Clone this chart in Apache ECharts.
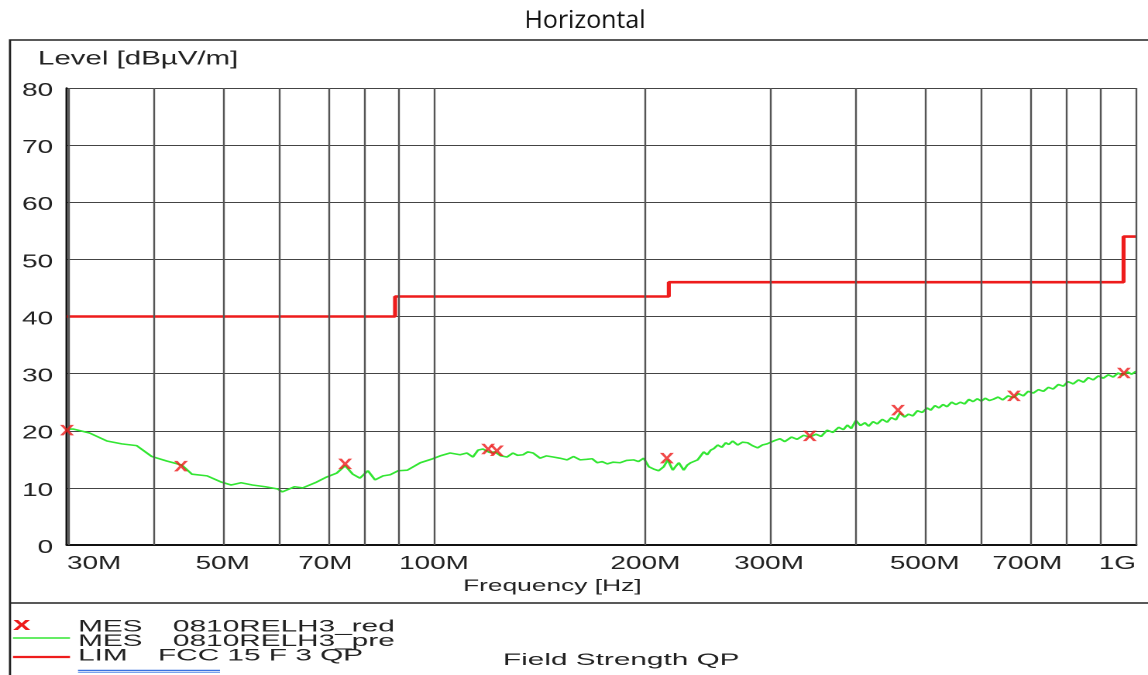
<!DOCTYPE html>
<html>
<head>
<meta charset="utf-8">
<script src="https://cdn.jsdelivr.net/npm/echarts@6/dist/echarts.min.js"></script>
<style>
html,body{margin:0;padding:0;background:#fff;overflow:hidden;width:1148px;height:675px}
#c{width:741px;height:675px;transform-origin:0 0;transform:scaleX(1.54926)}
</style>
</head>
<body>
<div id="c"></div>
<script>
// ---- Data (frequency in MHz, level in dBµV/m) ----
const limitFreq  = [30, 88, 88, 216, 216, 960, 960, 1000];
const limitLevel = [40, 40, 43.5, 43.5, 46, 46, 54, 54];

const redFreq  = [30.0, 43.6, 74.7, 119.4, 122.9, 214.6, 343, 458, 670, 961];
const redLevel = [20.1, 13.8, 14.2, 16.8, 16.5, 15.2, 19.1, 23.6, 26.1, 30.1];

const preFreq = [30.0,30.6,32.3,34.2,35.9,37.7,39.6,41.6,43.7,45.2,47.5,49.8,51.4,53.1,55.1,57.5,59.9,60.8,63.3,65.0,68.0,70.3,72.7,74.7,76.6,78.4,80.5,82.4,84.6,86.6,88.9,91.6,95.6,99.6,102.0,105.4,108.9,111.4,113.6,115.5,117.4,120.0,122.1,124.5,127.0,129.5,131.5,133.9,136.0,138.4,141.6,144.5,147.8,151.0,154.7,158.0,161.5,165.0,168.0,170.8,173.5,176.5,180.0,184.2,188.0,192.6,195.5,198.9,202.3,205.5,208.9,212.4,215.2,218.8,221.0,223.2,226.8,229.5,232.1,237.4,242.2,245.0,247.8,250.5,253.5,257.0,260.3,263.0,266.3,270.7,275.0,279.7,284.0,289.0,293.5,298.1,300,306,311,316,323,329,336,343,350,356,363,370,377,383,388,393,399,405,411,416,422,428,435,442,448,455,461,468,474,481,488,496,504,510,517,524,531,538,546,554,562,570,578,586,594,602,610,618,626,636,646,657,669,680,691,702,714,726,738,750,762,775,788,800,814,828,842,855,869,884,898,913,928,943,957,972,986,1000];
const preLevel = [20.3,20.3,19.6,18.2,17.7,17.4,15.5,14.7,14.0,12.4,12.1,11.0,10.5,10.9,10.5,10.2,9.8,9.3,10.2,10.0,11.0,11.9,12.6,13.9,12.4,11.7,13.0,11.4,12.1,12.3,13.0,13.1,14.4,15.1,15.6,16.1,15.8,16.1,15.4,16.6,16.8,16.2,16.3,15.6,15.4,16.1,15.7,15.8,16.3,16.1,15.2,15.6,15.4,15.2,14.9,15.5,14.9,15.0,15.1,14.4,14.6,14.2,14.5,14.4,14.8,14.9,14.6,15.2,13.7,13.3,13.0,13.7,14.9,13.1,13.8,14.4,13.1,14.0,14.4,14.9,16.3,15.8,16.6,16.9,17.5,17.1,17.9,17.6,18.2,17.5,18.0,17.9,17.4,17.0,17.5,17.7,17.6,18.3,18.6,18.1,18.9,18.5,19.2,18.9,19.4,19.0,20.1,19.7,20.6,20.2,21.0,20.4,21.8,20.9,21.4,20.8,21.6,21.2,22.0,21.5,22.3,21.9,23.1,22.4,22.9,22.6,23.5,23.2,24.0,23.6,24.4,24.0,24.6,24.2,25.0,24.6,25.0,24.7,25.5,25.1,25.6,25.2,25.7,25.3,25.5,25.9,25.4,26.1,25.8,26.5,26.1,26.9,26.6,27.2,26.9,27.6,27.3,28.1,27.8,28.6,28.2,28.9,28.5,29.3,28.9,29.6,29.2,29.8,29.4,30.1,29.7,30.3,29.9,30.4];

const gridFreqs = [30,40,50,60,70,80,90,100,200,300,400,500,600,700,800,900,1000];
const xTickFreqs = [30,50,70,100,200,300,500,700,1000];
const xTickLabels = ['30M','50M','70M','100M','200M','300M','500M','700M','1G'];

// ---- Chart ----
// The chart is laid out in a narrower box and stretched horizontally (like the reference image).
const S = 1148 / 741;
const px = v => v / S;            // page x -> chart-box x
const L = Math.log10;
const toPts = (fs, vs) => fs.map((f, i) => [L(f), vs[i]]);
const FONT = '"Liberation Sans", Arial, sans-serif';
const labelFor = v => {
  let best = 0, d = 1e9;
  xTickFreqs.forEach((f, i) => { const dd = Math.abs(L(f) - v); if (dd < d) { d = dd; best = i; } });
  return xTickLabels[best];
};
const xSym = 'path://M0,0 L2.6,0 L5,3.3 L7.4,0 L10,0 L6.3,4.7 L10,9.4 L7.4,9.4 L5,6.1 L2.6,9.4 L0,9.4 L3.7,4.7 Z';
const LEG = 1.13; // extra horizontal stretch of the legend text
const txt = (x, y, text, size, extra, fill, weight) => ({
  type: 'text', x: px(x), y: y, scaleX: extra || 1,
  style: {text: text, font: (weight || '') + ' ' + size + 'px ' + FONT, fill: fill || '#222', textVerticalAlign: 'top'}
});

const chart = echarts.init(document.getElementById('c'), null, {renderer: 'canvas', devicePixelRatio: 2});
chart.setOption({
  animation: false,
  backgroundColor: '#fff',
  grid: {left: px(67), right: px(12), top: 88, bottom: 130, containLabel: false},
  xAxis: {
    type: 'value', min: L(30), max: 3,
    axisLine: {show: true, onZero: false, lineStyle: {color: '#111', width: 2}},
    axisTick: {show: false},
    splitLine: {show: false},
    axisLabel: {
      customValues: xTickFreqs.map(L),
      formatter: v => labelFor(v),
      color: '#222', fontFamily: FONT, fontSize: 18, margin: 10,
      alignMinLabel: 'left', alignMaxLabel: 'right'
    }
  },
  yAxis: {
    type: 'value', min: 0, max: 80, interval: 10,
    axisLine: {show: true, lineStyle: {color: '#111', width: 1.5}},
    axisTick: {show: false},
    splitLine: {show: true, lineStyle: {color: '#444', width: 1}},
    axisLabel: {color: '#222', fontFamily: FONT, fontSize: 18, margin: 9, verticalAlign: 'top', lineHeight: 6}
  },
  graphic: [
    {type: 'text', x: px(585), y: 21, scaleX: 1 / S,
     style: {text: 'Horizontal', font: '25px "Open Sans", "Noto Sans", sans-serif', fill: '#111', textAlign: 'center', textVerticalAlign: 'middle'}},
    {type: 'rect', shape: {x: px(10), y: 40, width: 900, height: 700}, style: {fill: 'none', stroke: '#222', lineWidth: 1.4}, z: -1},
    {type: 'line', shape: {x1: px(10), y1: 603, x2: 760, y2: 603}, style: {stroke: '#222', lineWidth: 1.5}},
    txt(38, 50, 'Level [dBµV/m]', 19),
    txt(463, 578, 'Frequency [Hz]', 17),
    txt(13, 616, 'x', 18, LEG, '#ee1c1c', 'bold'),
    {type: 'line', shape: {x1: px(13), y1: 638, x2: px(70), y2: 638}, style: {stroke: '#33e633', lineWidth: 1.6}},
    {type: 'line', shape: {x1: px(13), y1: 657, x2: px(70), y2: 657}, style: {stroke: '#ee1c1c', lineWidth: 2.2}},
    txt(78, 618.5, 'MES', 17, LEG),
    txt(173, 618.5, '0810RELH3_red', 17, LEG),
    txt(78, 633, 'MES', 17, LEG),
    txt(173, 633, '0810RELH3_pre', 17, LEG),
    txt(78, 647.5, 'LIM', 17, LEG),
    txt(158, 647.5, 'FCC 15 F 3 QP', 17, LEG),
    {type: 'line', shape: {x1: px(78), y1: 670.5, x2: px(220), y2: 670.5}, style: {stroke: '#3a72e0', lineWidth: 1.5}},
    {type: 'line', shape: {x1: px(78), y1: 672.5, x2: px(220), y2: 672.5}, style: {stroke: '#7aa3ee', lineWidth: 1}},
    txt(503, 652, 'Field Strength QP', 17, LEG)
  ],
  series: [
    {
      type: 'line', name: 'grid', data: [], silent: true,
      markLine: {
        silent: true, symbol: 'none', animation: false,
        label: {show: false},
        lineStyle: {color: '#555', width: 1.2, type: 'solid'},
        data: gridFreqs.map(f => ({xAxis: L(f)}))
      }
    },
    {
      type: 'line', name: 'LIM FCC 15 F 3 QP', data: toPts(limitFreq, limitLevel),
      showSymbol: false, lineStyle: {color: '#ee1c1c', width: 2.6}, z: 3
    },
    {
      type: 'line', name: 'MES 0810RELH3_pre', data: toPts(preFreq, preLevel),
      showSymbol: false, lineStyle: {color: '#33e633', width: 1.6}, z: 4
    },
    {
      type: 'scatter', name: 'MES 0810RELH3_red', data: toPts(redFreq, redLevel),
      symbol: xSym, symbolSize: [9, 10.5], itemStyle: {color: '#ee1c1c'}, z: 5
    }
  ]
});
</script>
</body>
</html>
